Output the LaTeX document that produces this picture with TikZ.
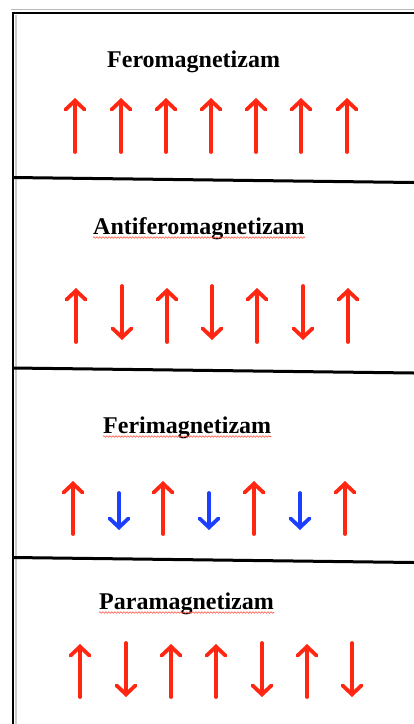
\documentclass[tikz,border=0pt]{standalone}
\usepackage{fontspec}
\setmainfont{Liberation Serif}
\usetikzlibrary{arrows.meta,decorations.pathmorphing}
\definecolor{arrred}{RGB}{255,38,18}
\definecolor{arrblue}{RGB}{28,62,255}
\tikzset{
  spin/.style={line width=3.8pt, line cap=round, -{Straight Barb[length=9pt,width=19pt,line cap=round]}},
  redspin/.style={spin, arrred},
  bluespin/.style={spin, arrblue},
  title/.style={font=\fontsize{24}{28}\selectfont\bfseries, inner sep=0pt, anchor=base west},
  divider/.style={line width=3pt, black},
  wavy/.style={arrred!80, line width=0.6pt, decorate, decoration={snake, segment length=3pt, amplitude=0.8pt}}
}
\begin{document}
\begin{tikzpicture}[x=1pt,y=-1pt]
\useasboundingbox (0,0) rectangle (414,724);
% frame
\draw[gray!55, line width=1.5pt] (11,9.5) -- (414,9.5);
\draw[black, line width=2.5pt] (12,13) -- (414,13);
\draw[gray!40, line width=1.5pt] (16,15) -- (16,724);
\draw[black, line width=2.5pt] (13,12) -- (13,724);
% dividers
\draw[divider] (13,177.5) -- (414,182.5);
\draw[divider] (13,368) -- (414,373);
\draw[divider] (13,557.5) -- (414,562.5);
% titles
\node[title] (t1) at (107,67) {Feromagnetizam};
\node[title] (t2) at (93,234) {Antiferomagnetizam};
\node[title] (t3) at (103,433) {Ferimagnetizam};
\node[title] (t4) at (99,609) {Paramagnetizam};
\draw[wavy] ([yshift=-3.5pt]t2.base west) -- ([yshift=-3.5pt]t2.base east);
\draw[wavy] ([yshift=-3.5pt]t3.base west) -- ([yshift=-3.5pt]t3.base east);
\draw[wavy] ([yshift=-3.5pt]t4.base west) -- ([yshift=-3.5pt]t4.base east);
% Feromagnetizam
\foreach \x in {75,121,166,211,256,301,347}
  \draw[redspin] (\x,152) -- (\x,98);
% Antiferomagnetizam
\foreach \x in {76,167,257,348}
  \draw[redspin] (\x,342) -- (\x,288);
\foreach \x in {122,212,303}
  \draw[redspin] (\x,286) -- (\x,340);
% Ferimagnetizam
\foreach \x in {73,163,254,345}
  \draw[redspin] (\x,534) -- (\x,481);
\foreach \x in {119,209,300}
  \draw[bluespin] (\x,493) -- (\x,530);
% Paramagnetizam
\foreach \x in {80,171,216,307}
  \draw[redspin] (\x,697) -- (\x,644);
\foreach \x in {126,262,352}
  \draw[redspin] (\x,643) -- (\x,697);
\end{tikzpicture}
\end{document}
